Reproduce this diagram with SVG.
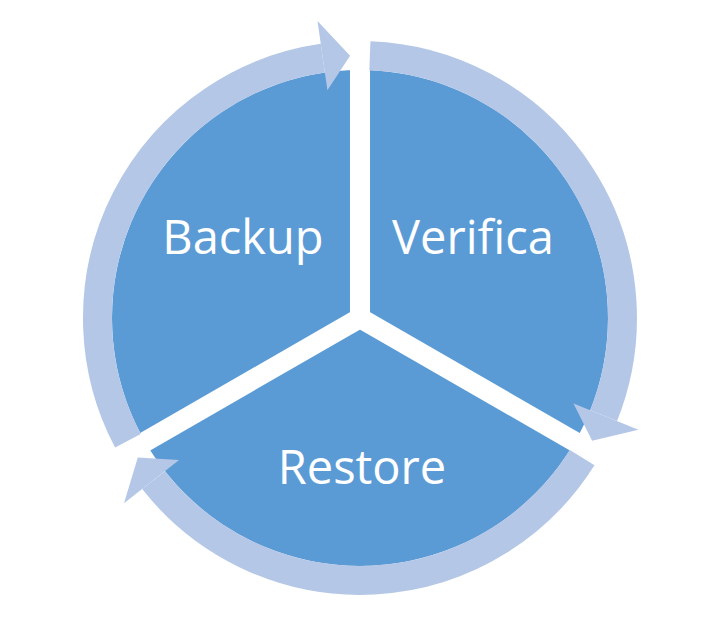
<svg xmlns="http://www.w3.org/2000/svg" width="723" height="623" viewBox="0 0 723 623">
<style>
.ring{fill:none;stroke:#B4C7E7;stroke-width:29}
.head{fill:#B4C7E7}
.spoke{stroke:#FFFFFF;stroke-width:20}
.lbl{font-family:"Open Sans","Liberation Sans",sans-serif;font-size:47px;fill:#FFFFFF;text-anchor:middle}
</style>
<rect width="723" height="623" fill="#FFFFFF"/>
<g id="pie">
<circle cx="360" cy="318" r="248" fill="#5B9BD5"/>
<line class="spoke" x1="360" y1="318" x2="360" y2="20"/>
<line class="spoke" x1="360" y1="318" x2="636" y2="477"/>
<line class="spoke" x1="360" y1="318" x2="84" y2="477"/>
</g>
<g id="connectors">
<path class="ring" d="M127.9,440.7 A262.5,262.5 0 0 1 322.8,58.2"/>
<polygon class="head" points="327.4,90.3 317.5,21 350.1,55.7"/>
<path class="ring" d="M369.9,55.7 A262.5,262.5 0 0 1 603.6,415.7"/>
<polygon class="head" points="573.5,403.6 638.4,429.7 592.1,440.7"/>
<path class="ring" d="M582.2,457.6 A262.5,262.5 0 0 1 153.6,480.1"/>
<polygon class="head" points="179.1,460 124,503.3 137.8,457.6"/>
</g>
<g id="node-backup"><text class="lbl" x="243" y="254">Backup</text></g>
<g id="node-verifica"><text class="lbl" x="473" y="254">Verifica</text></g>
<g id="node-restore"><text class="lbl" x="362" y="484">Restore</text></g>
</svg>
